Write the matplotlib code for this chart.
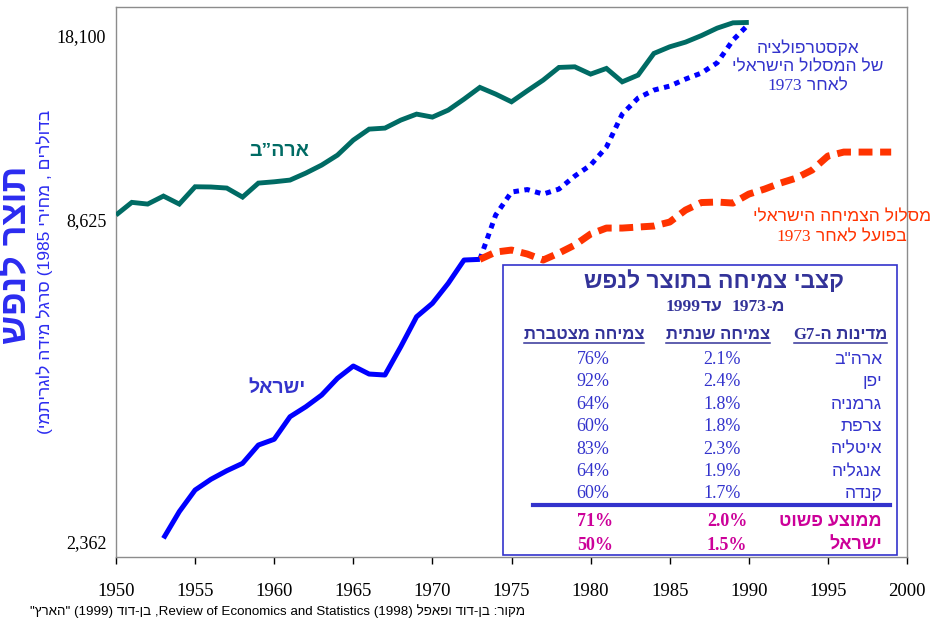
import re
import matplotlib
matplotlib.use('Agg')
import matplotlib.pyplot as plt
from matplotlib.patches import Rectangle
from matplotlib.lines import Line2D

W, H = 935, 625

# ---------------- data ----------------
us_years = list(range(1950, 1991))
us_gdp = [8780, 9240, 9177, 9477, 9177, 9839, 9830, 9788, 9438, 9985,
          10038, 10107, 10396, 10736, 11176, 11871, 12408, 12459, 12866, 13181,
          13023, 13394, 14001, 14677, 14286, 13850, 14478, 15113, 15905, 15945,
          15483, 15841, 15010, 15421, 16827, 17281, 17611, 18078, 18631, 19033,
          19064]

il_years = list(range(1953, 1974))
il_gdp = [2390, 2661, 2903, 3031, 3137, 3232, 3479, 3561, 3899, 4059,
          4255, 4551, 4782, 4630, 4612, 5168, 5831, 6154, 6670, 7326, 7346]

extrap_years = list(range(1973, 1991))
extrap_gdp = [7346, 8780, 9632, 9729, 9553, 9748, 10272, 10736, 11543, 13183,
              14060, 14519, 14755, 15177, 15547, 16204, 17755, 18935]

actual_years = list(range(1973, 2000))
actual_gdp = [7346, 7565, 7626, 7505, 7326, 7535, 7781, 8134, 8332, 8332,
              8366, 8400, 8536, 8958, 9233, 9252, 9214, 9553, 9748, 9986,
              10189, 10523, 11133, 11313, 11313, 11313, 11313]

y_ticks = [2362, 8625, 18100]
y_ticklabels = ['2,362', '8,625', '18,100']
x_ticks = list(range(1950, 2001, 5))

tbl_countries = ['ארה"ב', 'יפן', 'גרמניה', 'צרפת', 'איטליה', 'אנגליה', 'קנדה']
tbl_annual = ['2.1%', '2.4%', '1.8%', '1.8%', '2.3%', '1.9%', '1.7%']
tbl_cumul = ['76%', '92%', '64%', '60%', '83%', '64%', '60%']
tbl_summary_names = ['ממוצע פשוט', 'ישראל']
tbl_summary_annual = ['2.0%', '1.5%']
tbl_summary_cumul = ['71%', '50%']

# ---------------- helpers ----------------
MIRROR = str.maketrans('()', ')(')
LTR_RUN = re.compile(r'([A-Za-z0-9](?:[A-Za-z0-9 .,%\-]*[A-Za-z0-9%])?)')


def vis(s):
    """Convert logical-order RTL text into visual (left-to-right) order."""
    parts = LTR_RUN.split(s)
    out = []
    for i, p in enumerate(parts):
        out.append(p if i % 2 else p[::-1].translate(MIRROR))
    return ''.join(reversed(out))


def fx(x):
    return x / W


def fy(y):
    return 1 - y / H


SANS = ['Liberation Sans', 'DejaVu Sans']
SERIF = ['Liberation Serif', 'DejaVu Serif', 'DejaVu Sans']

C_GREEN = '#006b64'
C_BLUE = '#0000ff'
C_RED = '#ff3300'
C_TXTBLUE = '#3333cc'
C_DARK = '#333399'
C_MAG = '#cc0099'

# ---------------- figure ----------------
fig = plt.figure(figsize=(W / 100, H / 100), dpi=100)
rend = fig.canvas.get_renderer()


def place(segs, x, ybase, ha, size, color, weight='normal', z=11):
    """Place visual-order segments (text, family) side by side on a baseline."""
    texts = []
    for s, fam in segs:
        t = fig.text(0, fy(ybase), s, ha='left', va='baseline', fontsize=size,
                     color=color, fontweight=weight, family=fam, zorder=z)
        texts.append(t)
    widths = [t.get_window_extent(renderer=rend).width for t in texts]
    total = sum(widths)
    if ha == 'center':
        x0 = x - total / 2
    elif ha == 'right':
        x0 = x - total
    else:
        x0 = x
    for t, w in zip(texts, widths):
        t.set_x(fx(x0))
        x0 += w
    return texts


ax = fig.add_axes([fx(116), fy(557), (907 - 116) / W, (557 - 7) / H])

ax.plot(us_years, us_gdp, color=C_GREEN, lw=3.5, solid_joinstyle='miter',
        solid_capstyle='butt', zorder=3)
ax.plot(il_years, il_gdp, color=C_BLUE, lw=3.6, solid_capstyle='butt', zorder=3)
ax.plot(extrap_years, extrap_gdp, color=C_BLUE, lw=3.6, dashes=(1.1, 1.1),
        dash_capstyle='butt', zorder=3)
ax.plot(actual_years, actual_gdp, color=C_RED, lw=5.0, dashes=(2.0, 1.1),
        dash_capstyle='butt', zorder=3)

ax.set_yscale('log')
ax.set_ylim(2217, 20285)
ax.set_xlim(1950, 2000)
ax.set_yticks(y_ticks)
ax.set_yticklabels(y_ticklabels)
ax.yaxis.set_minor_locator(matplotlib.ticker.NullLocator())
ax.set_xticks(x_ticks)
ax.set_xticklabels([str(v) for v in x_ticks])
ax.tick_params(axis='y', length=0, pad=7, labelsize=13)
ax.tick_params(axis='x', direction='out', length=5, width=1, color='black',
               pad=14, labelsize=13.5)
for lab in ax.get_xticklabels() + ax.get_yticklabels():
    lab.set_family(SERIF)
for sp in ax.spines.values():
    sp.set_color('#8c8c8c')
    sp.set_linewidth(1.0)

# series labels
fig.text(fx(279), fy(152), vis('ארה”ב'), ha='center', va='center',
         fontsize=14, fontweight='bold', color=C_GREEN, family=SANS)
fig.text(fx(277), fy(388), vis('ישראל'), ha='center', va='center',
         fontsize=14, fontweight='bold', color=C_TXTBLUE, family=SANS)

# annotations (Hebrew in sans, digits in serif)
place([(vis('אקסטרפולציה'), SANS)], 808, 53, 'center', 12.5, C_TXTBLUE)
place([(vis('של המסלול הישראלי'), SANS)], 808, 71.5, 'center', 12.5, C_TXTBLUE)
place([('1973', SERIF), (' ' + vis('לאחר'), SANS)], 808, 90, 'center', 12.5,
      C_TXTBLUE)
place([(vis('מסלול הצמיחה הישראלי'), SANS)], 842, 221, 'center', 12.5, C_RED)
place([('1973', SERIF), (' ' + vis('בפועל לאחר'), SANS)], 842, 241, 'center',
      12.5, C_RED)

# y-axis titles
fig.text(fx(17), fy(255), vis('תוצר לנפש'), rotation=90, ha='center',
         va='center', fontsize=26, fontweight='bold', color='#2b2bf0',
         family=SANS)
fig.text(fx(45), fy(272), vis('בדולרים , מחירי 1985) סרגל מידה לוגריתמי)'),
         rotation=90, ha='center', va='center', fontsize=12.5,
         color='#2b2bf0', family=SANS)

# source
fig.text(fx(30), fy(611),
         vis('מקור: בן-דוד ופאפל (1998) Review of Economics and Statistics, '
             'בן-דוד (1999) "הארץ"'),
         ha='left', va='center', fontsize=9.6, color='black',
         family=['Liberation Sans Narrow', 'Liberation Sans', 'DejaVu Sans'])

# ---------------- table ----------------
fig.add_artist(Rectangle((fx(503), fy(555)), (897 - 503) / W, (555 - 265) / H,
                         transform=fig.transFigure, facecolor='white',
                         edgecolor=C_TXTBLUE, lw=1.2, zorder=10))
fig.text(fx(714), fy(282), vis('קצבי צמיחה בתוצר לנפש'), ha='center',
         va='center', fontsize=16.5, fontweight='bold', color=C_DARK,
         family=SANS, zorder=11)
place([('1999', SERIF), (vis('עד') + '  ', SANS), ('1973', SERIF),
       ('-' + vis('מ'), SANS)], 725, 311, 'center', 12.5, C_DARK, weight='bold')

hdr_groups = [
    place([(vis('צמיחה מצטברת'), SANS)], 584, 339, 'center', 12, C_DARK,
          weight='bold'),
    place([(vis('צמיחה שנתית'), SANS)], 718, 339, 'center', 12, C_DARK,
          weight='bold'),
    place([('G7', SERIF), (vis('מדינות ה-'), SANS)], 887, 339, 'right', 12,
          C_DARK, weight='bold'),
]

for i, (name, ann, cum) in enumerate(zip(tbl_countries, tbl_annual, tbl_cumul)):
    y = 359.5 + i * 22.4
    fig.text(fx(882), fy(y), vis(name), ha='right', va='center', fontsize=12.5,
             color=C_TXTBLUE, family=SANS, zorder=11)
    fig.text(fx(722), fy(y), ann, ha='center', va='center', fontsize=13,
             color=C_TXTBLUE, family=SERIF, zorder=11)
    fig.text(fx(593), fy(y), cum, ha='center', va='center', fontsize=13,
             color=C_TXTBLUE, family=SERIF, zorder=11)

fig.add_artist(Line2D([fx(533), fx(890)], [fy(505), fy(505)],
                      transform=fig.transFigure, color=C_TXTBLUE, lw=3,
                      zorder=11))

for i, (name, ann, cum) in enumerate(zip(tbl_summary_names, tbl_summary_annual,
                                         tbl_summary_cumul)):
    y = 521 + i * 24
    fig.text(fx(882), fy(y), vis(name), ha='right', va='center', fontsize=13,
             fontweight='bold', color=C_MAG, family=SANS, zorder=11)
    fig.text(fx(727), fy(y), ann, ha='center', va='center', fontsize=13,
             fontweight='bold', color=C_MAG, family=SERIF, zorder=11)
    fig.text(fx(595), fy(y), cum, ha='center', va='center', fontsize=13,
             fontweight='bold', color=C_MAG, family=SERIF, zorder=11)

# underline headers
for grp in hdr_groups:
    bbs = [t.get_window_extent(renderer=rend) for t in grp]
    x0 = min(b.x0 for b in bbs)
    x1 = max(b.x1 for b in bbs)
    yline = fy(342.5)
    fig.add_artist(Line2D([x0 / W, x1 / W], [yline, yline],
                          transform=fig.transFigure, color=C_DARK, lw=1.1,
                          zorder=11))

fig.savefig('out.png', dpi=100)
